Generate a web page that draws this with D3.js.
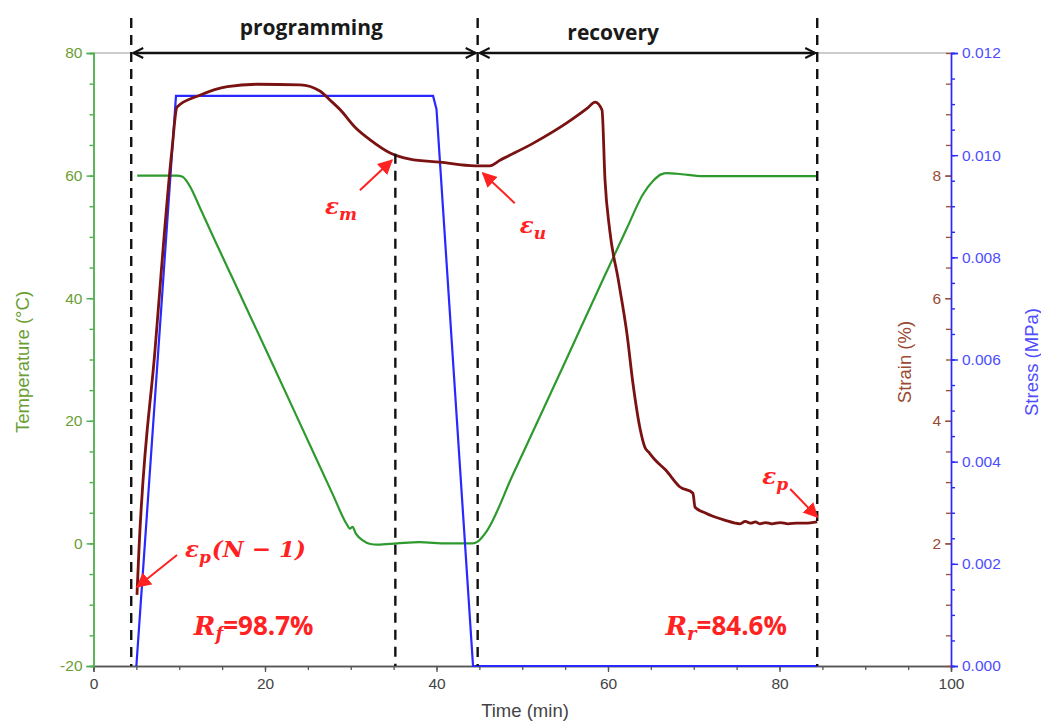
<!DOCTYPE html>
<html>
<head>
<meta charset="utf-8">
<script src="https://cdn.jsdelivr.net/npm/d3@7"></script>
<style>
  body { margin: 0; background: #fff; }
  svg { display: block; font-family: "Liberation Sans", Arial, sans-serif; }
</style>
</head>
<body>
<svg id="chart" width="1041" height="722"></svg>
<script>
// Values (time in min)
const tempTime = [5.1, 9.7, 10.4, 10.9, 11.6, 12.4, 14.2, 16.3, 20.2, 24.1, 27.9, 29.5, 29.9, 30.2, 30.6, 31.4, 32.3, 33.1, 35.4, 38.0, 41.2, 44.2, 44.8, 45.9, 48.9, 50.6, 55.0, 59.4, 62.2, 64.1, 65.3, 66.2, 66.9, 68.1, 71.1, 73.9, 84.4];
const tempVals = [60, 60, 59.8, 59.0, 57.3, 54.8, 49.3, 43.0, 31.3, 19.5, 8.0, 3.2, 2.4, 2.7, 1.6, 0.5, -0.1, -0.2, 0, 0.2, 0, 0, 0.3, 2.1, 11.2, 16.3, 29.6, 43.0, 51.4, 57.0, 59.2, 60.2, 60.4, 60.3, 59.9, 59.9, 59.9];

const strainTime = [5.07, 5.3, 7.17, 9.15, 9.74, 12.4, 15.6, 19.1, 24.1, 26.4, 27.6, 28.8, 30.5, 32.3, 34.6, 36.9, 40.4, 44.5, 46.2, 47.4, 51.3, 55.2, 57.6, 58.5, 59.3, 59.65, 60.2, 61.2, 61.6, 62.2, 62.9, 63.7, 64.3, 64.8, 65.5, 66.7, 68.4, 69.9, 70.15, 71.3, 73.6, 75.4, 76.0, 76.6, 77.2, 77.7, 78.4, 79.1, 80.1, 81.0, 82.0, 83.0, 84.4];
const strainVals = [1.16, 1.89, 5.15, 8.42, 9.12, 9.31, 9.45, 9.49, 9.48, 9.38, 9.23, 9.07, 8.79, 8.58, 8.37, 8.27, 8.22, 8.16, 8.16, 8.25, 8.53, 8.86, 9.10, 9.20, 9.07, 7.93, 7.11, 6.30, 5.97, 5.43, 4.62, 3.90, 3.57, 3.48, 3.36, 3.20, 2.92, 2.82, 2.59, 2.50, 2.38, 2.32, 2.36, 2.33, 2.35, 2.32, 2.34, 2.32, 2.34, 2.32, 2.33, 2.33, 2.35];

const stressTime = [5.0, 9.62, 39.6, 40.0, 44.26, 84.4];
const stressVals = [0, 0.01116, 0.01116, 0.0109, 0, 0];

// dashed markers and phase arrows
const markerTimes = [4.4, 35.2, 44.8, 84.4];
const markerTops = [80, 8.42, 80, 80]; // top of each dashed line (temp °C or strain %)
const phaseNames = ["programming", "recovery"];
const phaseStart = [4.4, 44.8];
const phaseEnd = [44.8, 84.4];
const phaseLabelTime = [25.4, 60.6];

const timeTicks = [0, 20, 40, 60, 80, 100];
const tempTicks = [-20, 0, 20, 40, 60, 80];
const strainTicks = [2, 4, 6, 8];
const stressTicks = [0, 0.002, 0.004, 0.006, 0.008, 0.010, 0.012];

const svg = d3.select("#chart");
const L = 93.5, R = 951, T = 53, B = 666;

const x = d3.scaleLinear([0, 100], [L, R]);
const yT = d3.scaleLinear([-20, 80], [B, T]);
const yS = d3.scaleLinear([0, 10], [B, T]);
const yP = d3.scaleLinear([0, 0.012], [B, T]);

const green = "#2e9a2e", tempLbl = "#6a9e34", tempAxis = "#4cae4c";
const brown = "#7a1212", strainLbl = "#9a4a32";
const blue = "#2828ff", stressLbl = "#4d4dff";
const tickFont = 15.5, titleFont = 18.5;

// top border
svg.append("line").attr("x1", L).attr("x2", R).attr("y1", T).attr("y2", T)
  .attr("stroke", "#9a9a9a").attr("stroke-width", 1.2);

// bottom axis
const gx = svg.append("g").attr("transform", `translate(0,${B})`);
gx.call(d3.axisBottom(x).tickValues(d3.range(0, 101, 5)).tickSize(4).tickFormat(""));
gx.append("g").call(d3.axisBottom(x).tickValues(timeTicks).tickSize(6).tickPadding(6));
gx.selectAll("path, line").attr("stroke", "#555").attr("stroke-width", 1.3);
gx.selectAll("text").attr("fill", "#444").attr("font-size", tickFont);

// left temperature axis
const gl = svg.append("g").attr("transform", `translate(${L},0)`);
gl.call(d3.axisLeft(yT).tickValues(d3.range(-20, 81, 5)).tickSize(4).tickFormat(""));
gl.append("g").call(d3.axisLeft(yT).tickValues(tempTicks).tickSize(7).tickPadding(4).tickFormat(d => String(d)));
gl.selectAll("path, line").attr("stroke", tempAxis).attr("stroke-width", 1.4);
gl.selectAll("text").attr("fill", tempLbl).attr("font-size", tickFont);

// right strain axis (ticks pointing inward)
const gs = svg.append("g").attr("transform", `translate(${R},0)`);
gs.call(d3.axisLeft(yS).tickValues(d3.range(0, 10.01, 0.5)).tickSize(5).tickFormat(""));
gs.append("g").call(d3.axisLeft(yS).tickValues(strainTicks).tickSize(6).tickPadding(4));
gs.selectAll("path").remove();
gs.selectAll("line").attr("stroke", strainLbl).attr("stroke-width", 1.3);
gs.selectAll("text").attr("fill", strainLbl).attr("font-size", tickFont);

// right stress axis
const gp = svg.append("g").attr("transform", `translate(${R},0)`);
gp.call(d3.axisRight(yP).tickValues(d3.range(0, 0.01201, 0.0005)).tickSize(4).tickFormat(""));
gp.append("g").call(d3.axisRight(yP).tickValues(stressTicks).tickSize(7).tickPadding(4).tickFormat(d3.format(".3f")));
gp.selectAll("path, line").attr("stroke", blue).attr("stroke-width", 1.4);
gp.selectAll("text").attr("fill", stressLbl).attr("font-size", tickFont);

// axis titles
svg.append("text").attr("x", 525).attr("y", 717).attr("text-anchor", "middle")
  .attr("font-size", titleFont).attr("fill", "#444").text("Time (min)");
svg.append("text").attr("transform", "translate(29,362) rotate(-90)").attr("text-anchor", "middle")
  .attr("font-size", titleFont).attr("fill", tempLbl).text("Temperature (°C)");
svg.append("text").attr("transform", "translate(911,362) rotate(-90)").attr("text-anchor", "middle")
  .attr("font-size", titleFont).attr("fill", strainLbl).text("Strain (%)");
svg.append("text").attr("transform", "translate(1038,362) rotate(-90)").attr("text-anchor", "middle")
  .attr("font-size", titleFont).attr("fill", stressLbl).text("Stress (MPa)");

// curves
const zip = (a, b) => a.map((t, i) => [t, b[i]]);
svg.append("path").datum(zip(tempTime, tempVals))
  .attr("d", d3.line().x(d => x(d[0])).y(d => yT(d[1])).curve(d3.curveMonotoneX))
  .attr("fill", "none").attr("stroke", green).attr("stroke-width", 2.2);
svg.append("path").datum(zip(stressTime, stressVals))
  .attr("d", d3.line().x(d => x(d[0])).y(d => yP(d[1])))
  .attr("fill", "none").attr("stroke", blue).attr("stroke-width", 2.2);
svg.append("path").datum(zip(strainTime, strainVals))
  .attr("d", d3.line().x(d => x(d[0])).y(d => yS(d[1])).curve(d3.curveMonotoneX))
  .attr("fill", "none").attr("stroke", brown).attr("stroke-width", 2.8);

// dashed vertical markers
markerTimes.forEach((t, i) => {
  const top = markerTops[i] === 80 ? 18 : yS(markerTops[i]) + 4;
  svg.append("line").attr("x1", x(t)).attr("x2", x(t)).attr("y1", top).attr("y2", B)
    .attr("stroke", "#111").attr("stroke-width", 2.4).attr("stroke-dasharray", "10,7");
});

// markers for arrows
const defs = svg.append("defs");
defs.append("marker").attr("id", "chev").attr("viewBox", "0 0 12 12").attr("refX", 11).attr("refY", 6)
  .attr("markerWidth", 12).attr("markerHeight", 12).attr("markerUnits", "userSpaceOnUse").attr("orient", "auto-start-reverse")
  .append("path").attr("d", "M1,1 L11,6 L1,11").attr("fill", "none").attr("stroke", "#111").attr("stroke-width", 2);
defs.append("marker").attr("id", "redhead").attr("viewBox", "0 0 10 10").attr("refX", 9).attr("refY", 5)
  .attr("markerWidth", 15).attr("markerHeight", 15).attr("markerUnits", "userSpaceOnUse").attr("orient", "auto")
  .append("path").attr("d", "M0,0 L10,5 L0,10 Z").attr("fill", "#ff2222");

// phase arrows + names
phaseNames.forEach((name, i) => {
  const x1 = x(phaseStart[i]) + 2, x2 = x(phaseEnd[i]) - 2;
  svg.append("line").attr("x1", x1).attr("x2", x2).attr("y1", T).attr("y2", T)
    .attr("stroke", "#111").attr("stroke-width", 2.6)
    .attr("marker-start", "url(#chev)").attr("marker-end", "url(#chev)");
  svg.append("text").attr("x", x(phaseLabelTime[i])).attr("y", i === 0 ? 35 : 40).attr("text-anchor", "middle")
    .attr("font-family", "'Open Sans', sans-serif").attr("font-weight", 700).attr("font-size", 21)
    .attr("fill", "#1a1a1a").text(name);
});

// strain point annotations: tip in data units, tail offset and label position in px
const annTime = [5.07, 34.8, 45.4, 84.4];
const annStrain = [1.29, 8.25, 8.04, 2.43];
const annTail = [[40, -32], [-32, 30], [32, 30], [-27, -28]];
const annSub = ["p", "m", "u", "p"];
const annRest = ["(N − 1)", "", "", ""];
const annText = [[48, -30], [-67, 54], [37, 60], [-55, -33]];

const red = "#ff2222";
const mathFont = "'DejaVu Serif', serif";
annTime.forEach((t, i) => {
  const tx = x(t), ty = yS(annStrain[i]);
  svg.append("line").attr("x1", tx + annTail[i][0]).attr("y1", ty + annTail[i][1])
    .attr("x2", tx).attr("y2", ty).attr("stroke", red).attr("stroke-width", 2)
    .attr("marker-end", "url(#redhead)");
  const lab = svg.append("text").attr("x", tx + annText[i][0]).attr("y", ty + annText[i][1])
    .attr("font-family", mathFont).attr("font-style", "italic").attr("font-weight", 700)
    .attr("font-size", 23).attr("fill", red);
  lab.append("tspan").text("ε");
  lab.append("tspan").attr("font-size", 17).attr("dy", 6).text(annSub[i]);
  if (annRest[i]) lab.append("tspan").attr("dy", -6).attr("dx", 1).text(annRest[i]);
});

// recovery ratios
const ratioSub = ["f", "r"];
const ratioVal = ["=98.7%", "=84.6%"];
const ratioTime = [11.7, 66.7];
ratioSub.forEach((s, i) => {
  const lab = svg.append("text").attr("x", x(ratioTime[i])).attr("y", yT(-15))
    .attr("font-size", 26).attr("fill", red).attr("font-weight", 700);
  lab.append("tspan").attr("font-family", mathFont).attr("font-style", "italic").text("R");
  lab.append("tspan").attr("font-family", mathFont).attr("font-style", "italic")
    .attr("font-size", 18).attr("dy", 5).text(s);
  lab.append("tspan").attr("font-family", "'Open Sans', sans-serif").attr("dy", -5).text(ratioVal[i]);
});
</script>
</body>
</html>
